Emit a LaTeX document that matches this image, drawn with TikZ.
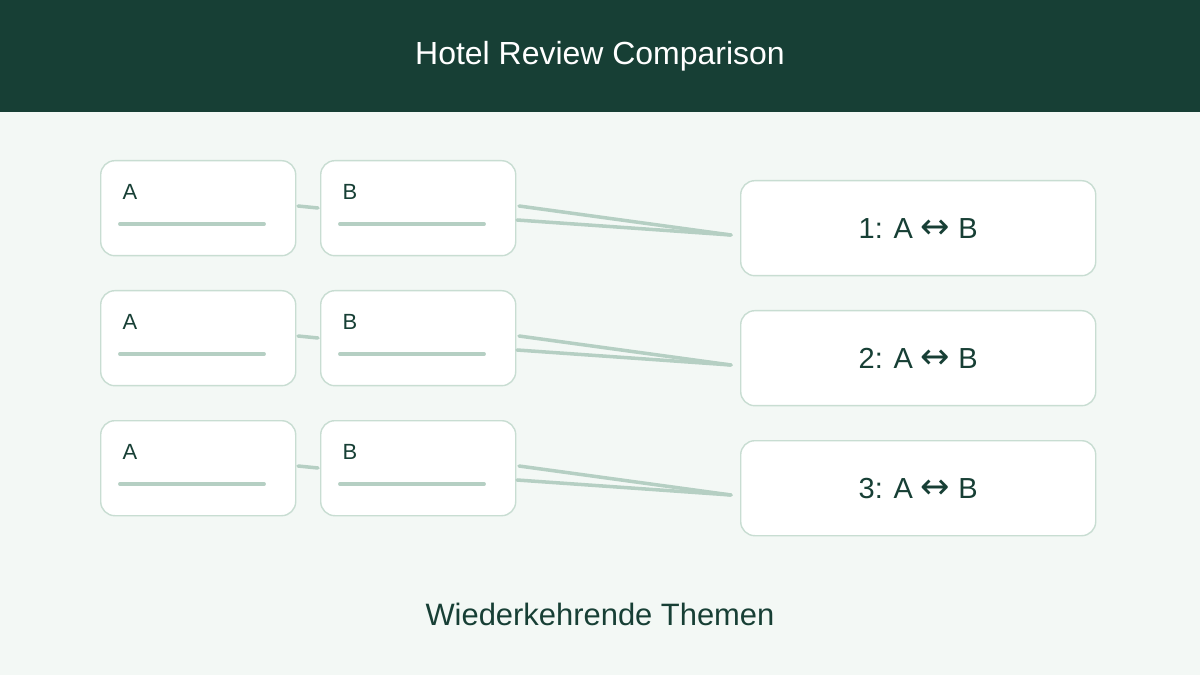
\documentclass[tikz,border=0pt]{standalone}
\usepackage{fontspec}
\setmainfont{Liberation Sans}
\newfontfamily\arrowfont{DejaVu Sans}
\definecolor{hdr}{HTML}{173F35}
\definecolor{bgc}{HTML}{F3F8F5}
\definecolor{brd}{HTML}{C8DDD2}
\definecolor{lnc}{HTML}{B5CFC3}
\tikzset{
  card/.style={draw=brd, line width=0.8pt, fill=white, rounded corners=8pt,
    minimum width=195\px, minimum height=95\px, inner sep=0pt},
  pair/.style={draw=brd, line width=0.8pt, fill=white, rounded corners=8pt,
    minimum width=355\px, minimum height=95\px, inner sep=0pt,
    font=\fontsize{16.5}{19}\selectfont, text=hdr},
  bar/.style={lnc, line width=2.2pt, line cap=round},
  link/.style={lnc, line width=2pt, line cap=round}
}
\newlength{\px}\setlength{\px}{0.02cm}
\begin{document}
\begin{tikzpicture}[x=0.02cm, y=-0.02cm]
  % --- 背景 ---
  \fill[bgc] (0,0) rectangle (1200,675);
  \fill[hdr] (0,0) rectangle (1200,112);
  \node[white, font=\fontsize{18.2}{22}\selectfont] (title) at (600,56) {Hotel Review Comparison};

  % --- 行 ---
  \foreach \i/\y in {1/160, 2/290, 3/420} {
    \node[card, anchor=north west] (a\i) at (100,\y) {};
    \node[card, anchor=north west] (b\i) at (320,\y) {};
    \node[pair, anchor=north west] (p\i) at (740,\y+20) {\i: A {\arrowfont\fontsize{20}{20}\selectfont ↔} B};
    \node[text=hdr, font=\fontsize{12.5}{14}\selectfont] (la\i) at (130,\y+32) {A};
    \node[text=hdr, font=\fontsize{12.5}{14}\selectfont] (lb\i) at (350,\y+32) {B};
    \draw[bar] (120,\y+64) -- (264,\y+64);
    \draw[bar] (340,\y+64) -- (484,\y+64);
    % 連結線
    \coordinate (ae\i) at (298,\y+46);
    \coordinate (bs\i) at (318,\y+48);
    \coordinate (t1\i) at (519,\y+46);
    \coordinate (t2\i) at (517,\y+60);
    \coordinate (e\i) at (731,\y+75);
    \draw[link] (ae\i) -- (bs\i);
    \draw[link] (t1\i) -- (e\i);
    \draw[link] (t2\i) -- (e\i);
  }

  \node[text=hdr, font=\fontsize{17.6}{21}\selectfont] (foot) at (600,614) {Wiederkehrende Themen};
\end{tikzpicture}
\end{document}
